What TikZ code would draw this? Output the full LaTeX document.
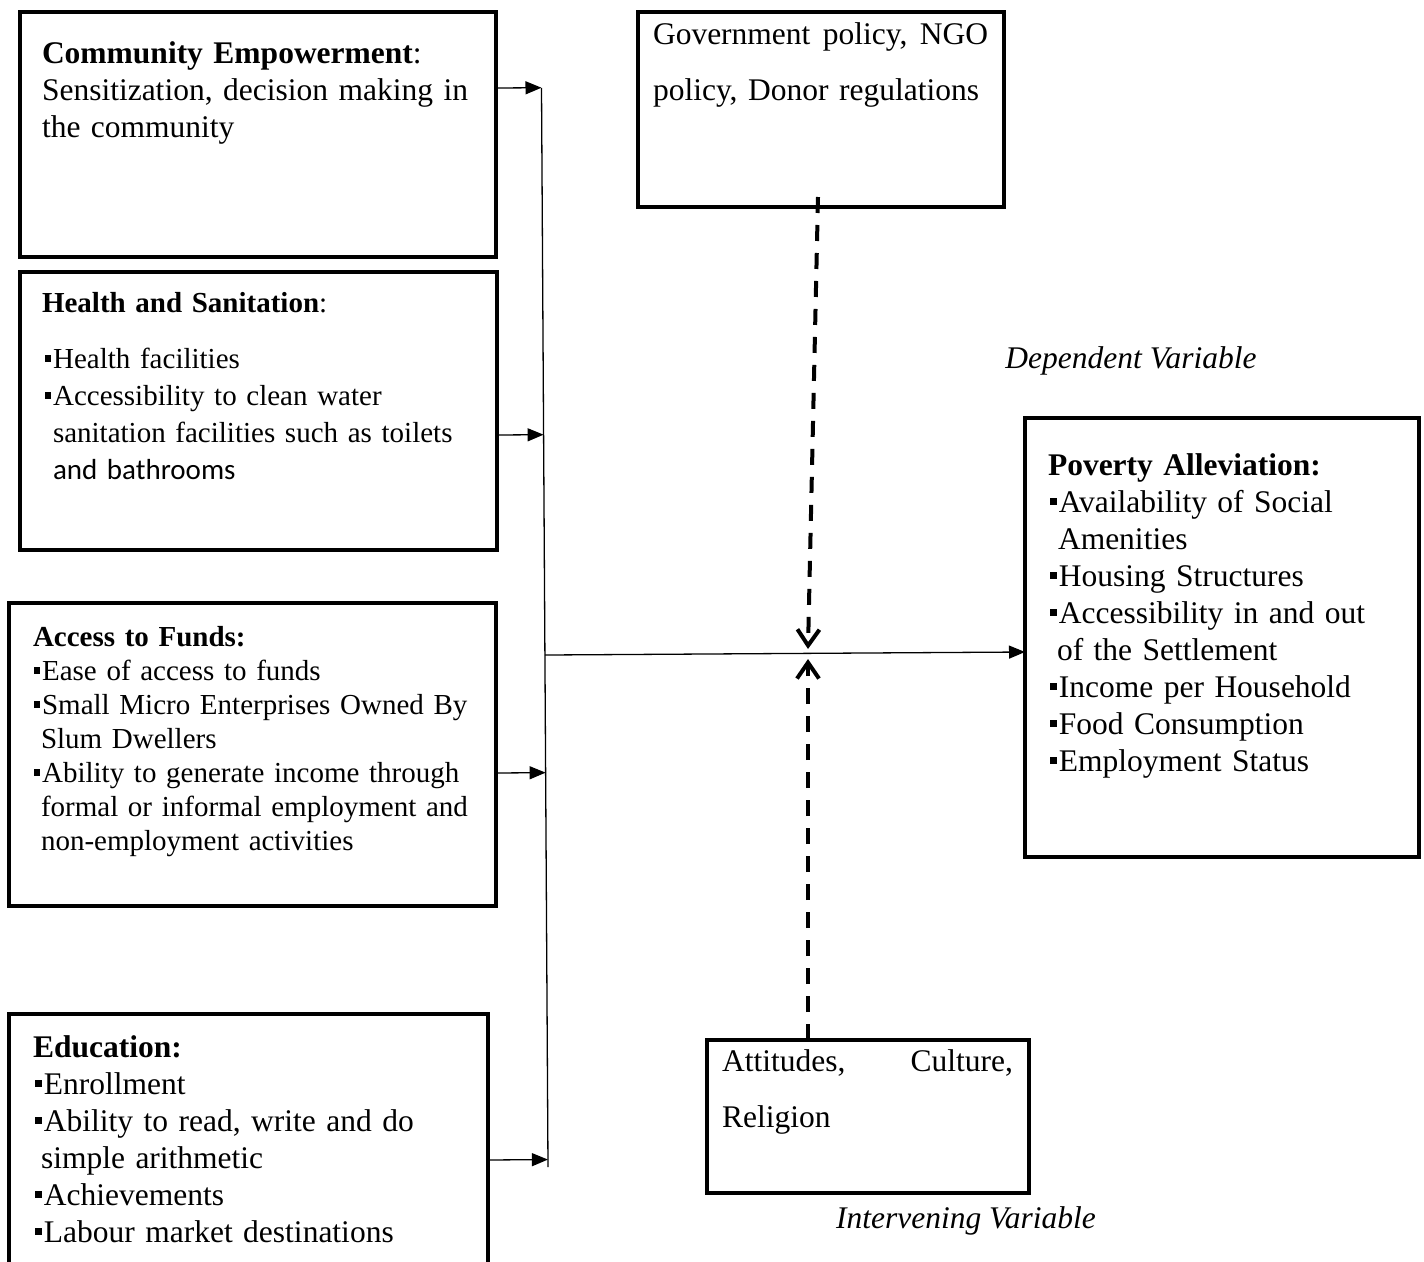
\documentclass[tikz,border=0pt]{standalone}
\usepackage{fontspec}
\setmainfont{Liberation Serif}
\newfontfamily\calib{Carlito}
\usetikzlibrary{arrows.meta,calc}
\newcommand\sqbul{\rule[0.22em]{0.22em}{0.22em}\hspace{0.06em}}
\begin{document}
\begin{tikzpicture}[x=1pt,y=-1pt,
  box/.style={draw, line width=3.6pt, inner sep=0pt, outer sep=0pt, anchor=north west},
  txt/.style={inner sep=0pt, outer sep=0pt, anchor=north west, align=left, text width=#1},
  bigf/.style={font=\fontsize{31.5}{37}\selectfont},
  smallf/.style={font=\fontsize{29}{37}\selectfont},
  fundf/.style={font=\fontsize{29}{34}\selectfont},
  widef/.style={font=\fontsize{31.5}{56}\selectfont},
  lbl/.style={inner sep=0pt, anchor=base, font=\fontsize{31.5}{37}\selectfont\itshape},
  conn/.style={line width=1.3pt, -{Triangle[length=16pt,width=13pt]}},
  dashconn/.style={line width=4pt, dash pattern=on 16pt off 12pt, -{Straight Barb[length=16pt,width=22pt]}}]
\useasboundingbox (0,0) rectangle (1424,1261);
\clip (0,0) rectangle (1424,1261);
% boxes
\node[box, minimum width=476pt, minimum height=245pt] (ce) at (20,12) {};
\node[box, minimum width=477pt, minimum height=278pt] (hs) at (20,272) {};
\node[box, minimum width=487pt, minimum height=303pt] (af) at (9,603) {};
\node[box, minimum width=479pt, minimum height=300pt] (ed) at (9,1014) {};
\node[box, minimum width=366pt, minimum height=195pt] (gov) at (638,12) {};
\node[box, minimum width=394pt, minimum height=439pt] (pov) at (1025,418) {};
\node[box, minimum width=322pt, minimum height=153pt] (att) at (707,1040) {};
% texts
\node[txt=470pt, bigf] (cet) at (42,37.1) {\strut\textbf{Community Empowerment}:\\
Sensitization, decision making in\\
the community};
\node[txt=470pt, smallf] (hst) at (42,286.1) {\strut\textbf{Health and Sanitation}:\\[19pt]
\hspace*{3pt}\sqbul Health facilities\\
\hspace*{3pt}\sqbul Accessibility to clean water\\
\hspace*{11pt}sanitation facilities such as toilets\\
\hspace*{11pt}{\calib and bathrooms}};
\node[txt=470pt, fundf] (aft) at (33,622.2) {\strut\textbf{Access to Funds:}\\
\hspace*{1pt}\sqbul Ease of access to funds\\
\hspace*{1pt}\sqbul Small Micro Enterprises Owned By\\
\hspace*{8pt}Slum Dwellers\\
\hspace*{1pt}\sqbul Ability to generate income through\\
\hspace*{8pt}formal or informal employment and\\
\hspace*{8pt}non-employment activities};
\node[txt=470pt, bigf] (edt) at (33,1031.1) {\strut\textbf{Education:}\\
\hspace*{2pt}\sqbul Enrollment\\
\hspace*{2pt}\sqbul Ability to read, write and do\\
\hspace*{8pt}simple arithmetic\\
\hspace*{2pt}\sqbul Achievements\\
\hspace*{2pt}\sqbul Labour market destinations};
\node[txt=370pt, bigf] (povt) at (1048,449.1) {\strut\textbf{Poverty Alleviation:}\\
\hspace*{2pt}\sqbul Availability of Social\\
\hspace*{10pt}Amenities\\
\hspace*{2pt}\sqbul Housing Structures\\
\hspace*{2pt}\sqbul Accessibility in and out\\
\hspace*{9pt}of the Settlement\\
\hspace*{2pt}\sqbul Income per Household\\
\hspace*{2pt}\sqbul Food Consumption\\
\hspace*{2pt}\sqbul Employment Status};
\node[txt=350pt, widef] (govt) at (653,4.8) {\strut\makebox[335pt][s]{Government\hfill policy,\hfill NGO}\\
policy, Donor regulations};
\node[txt=300pt, widef] (attt) at (722,1031.8) {\strut\makebox[291pt][s]{Attitudes,\hfill Culture,}\\
Religion};
\node[lbl] (dep) at (1131,368) {Dependent Variable};
\node[lbl] (intv) at (966,1228) {Intervening Variable};
% connectors
\coordinate (vtop) at (541.5,88);
\coordinate (vbot) at (548,1167);
\draw[line width=1.3pt] (vtop) -- (vbot);
\coordinate (ceout) at ($(ce.north east)+(0,76)$);
\coordinate (hsout) at ($(hs.north east)+(0,163)$);
\coordinate (afout) at ($(af.north east)+(0,170)$);
\coordinate (edout) at ($(ed.north east)+(0,146)$);
\draw[conn] (ceout) -- ($(vtop)!(ceout)!(vbot)$);
\draw[conn] (hsout) -- ($(vtop)!(hsout)!(vbot)$);
\draw[conn] (afout) -- ($(vtop)!(afout)!(vbot)$);
\draw[conn] (edout) -- ($(vtop)!(edout)!(vbot)$);
\coordinate (hubout) at ($(vtop)!0.5255!(vbot)$);
\coordinate (povin) at ($(pov.north west)+(0,234)$);
\draw[conn] (hubout) -- (povin);
\coordinate (tipd) at (808,649);
\coordinate (tipu) at (808,659);
\draw[dashconn] ($(gov.south west)+(180,-10)$) -- (tipd);
\draw[dashconn] ($(att.north west)+(101,0)$) -- (tipu);
\end{tikzpicture}
\end{document}
